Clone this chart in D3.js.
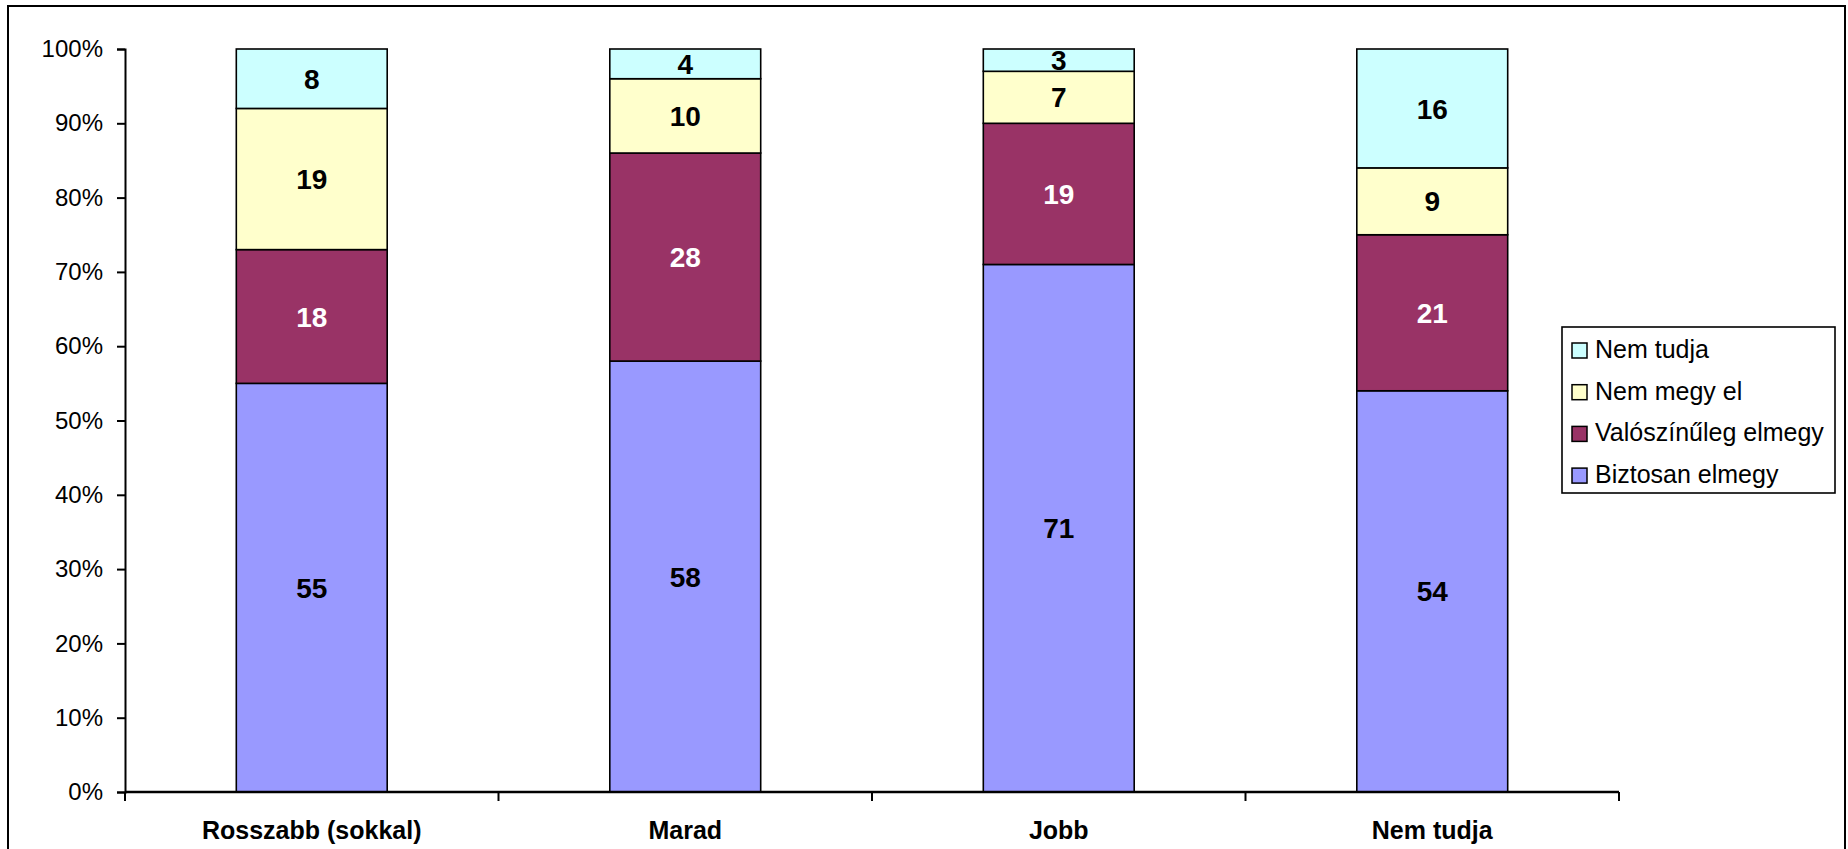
<!DOCTYPE html>
<html><head><meta charset="utf-8">
<script src="https://cdn.jsdelivr.net/npm/d3@7"></script>
<style>html,body{margin:0;padding:0;background:#fff;}svg{display:block;font-family:Arial,"Liberation Sans",sans-serif;}</style>
</head><body>
<svg id="c" width="1848" height="849"></svg>
<script>
const categories = ["Rosszabb (sokkal)", "Marad", "Jobb", "Nem tudja"];
const seriesNames = ["Biztosan elmegy", "Valószínűleg elmegy", "Nem megy el", "Nem tudja"];
const biztosan = [55, 58, 71, 54];
const valoszinuleg = [18, 28, 19, 21];
const nemMegyEl = [19, 10, 7, 9];
const nemTudja = [8, 4, 3, 16];
const colors = ["#9999FF", "#993366", "#FFFFCC", "#CCFFFF"];
const labelColors = ["#000", "#fff", "#000", "#000"];
const yTicks = [0,10,20,30,40,50,60,70,80,90,100];

const svg = d3.select("#c");
const pLeft = 125, pRight = 1619, pTop = 49, pBottom = 792;

const rows = categories.map((c,i)=>({cat:c, [seriesNames[0]]:biztosan[i], [seriesNames[1]]:valoszinuleg[i], [seriesNames[2]]:nemMegyEl[i], [seriesNames[3]]:nemTudja[i]}));
const stacked = d3.stack().keys(seriesNames)(rows);

const x = d3.scaleBand().domain(categories).range([pLeft, pRight]).paddingInner(0).paddingOuter(0);
const y = d3.scaleLinear().domain([0,100]).range([pBottom, pTop]);
const barW = x.bandwidth()*0.404;

// outer border
svg.append("rect").attr("x",8).attr("y",6).attr("width",1837).attr("height",870)
  .attr("fill","none").attr("stroke","#000").attr("stroke-width",2);

// bars
stacked.forEach((s, si) => {
  const g = svg.append("g");
  g.selectAll("rect").data(s).join("rect")
    .attr("x", d => x(d.data.cat) + x.bandwidth()/2 - barW/2)
    .attr("y", d => y(d[1]))
    .attr("width", barW)
    .attr("height", d => y(d[0]) - y(d[1]))
    .attr("fill", colors[si]).attr("stroke","#000").attr("stroke-width",1.6);
  g.selectAll("text").data(s).join("text")
    .attr("x", d => x(d.data.cat) + x.bandwidth()/2)
    .attr("y", d => (y(d[0]) + y(d[1]))/2)
    .attr("dy","0.36em")
    .attr("text-anchor","middle")
    .attr("font-weight","bold").attr("font-size","28px")
    .attr("fill", labelColors[si])
    .text(d => d[1]-d[0]);
});

// y axis
const yAxis = d3.axisLeft(y).tickValues(yTicks).tickFormat(d=>d+"%").tickSize(8).tickPadding(14);
const ya = svg.append("g").attr("transform",`translate(${pLeft},0)`).call(yAxis);
ya.select(".domain").attr("stroke","#000").attr("stroke-width",2);
ya.selectAll(".tick line").attr("stroke","#000").attr("stroke-width",2);
ya.selectAll(".tick text").attr("font-size","24px").attr("fill","#000").attr("font-family","Arial, 'Liberation Sans', sans-serif");

// x axis
const xa = svg.append("g").attr("transform",`translate(0,${pBottom})`);
xa.append("line").attr("x1",pLeft).attr("x2",pRight).attr("stroke","#000").attr("stroke-width",2.5);
const bounds = categories.map(c=>x(c)).concat([pRight]);
xa.selectAll("line.t").data(bounds).join("line").attr("class","t")
  .attr("x1",d=>d).attr("x2",d=>d).attr("y1",0).attr("y2",9).attr("stroke","#000").attr("stroke-width",2);
xa.selectAll("text").data(categories).join("text")
  .attr("x", d => x(d) + x.bandwidth()/2).attr("y", 47)
  .attr("text-anchor","middle").attr("font-weight","bold").attr("font-size","25px")
  .text(d=>d);

// legend
const lg = svg.append("g");
lg.append("rect").attr("x",1562).attr("y",327).attr("width",273).attr("height",166)
  .attr("fill","#fff").attr("stroke","#000").attr("stroke-width",1.6);
const legOrder = [3,2,1,0];
legOrder.forEach((si, i) => {
  const base = 358 + i*41.7;
  lg.append("rect").attr("x",1572).attr("y",base-15).attr("width",15).attr("height",15)
    .attr("fill",colors[si]).attr("stroke","#000").attr("stroke-width",1.5);
  lg.append("text").attr("x",1595).attr("y",base)
    .attr("font-size","25px").attr("fill","#000").text(seriesNames[si]);
});
</script>
</body></html>
